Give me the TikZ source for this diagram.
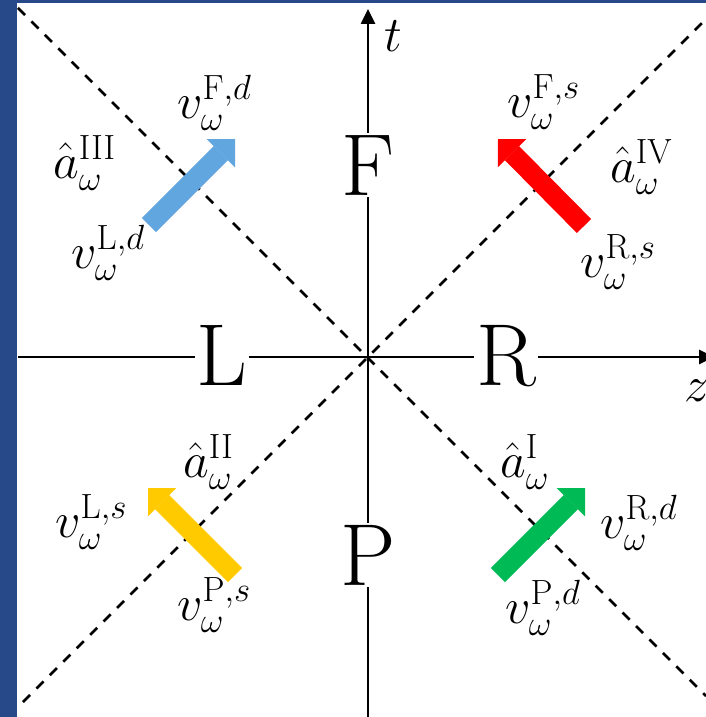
\RequirePackage{fix-cm}
\documentclass[tikz,border=0pt]{standalone}
\usetikzlibrary{arrows.meta}
\definecolor{frameblue}{HTML}{27498A}
\definecolor{arrblue}{HTML}{62A6E0}
\definecolor{arrred}{HTML}{FF0000}
\definecolor{arryellow}{HTML}{FFCA00}
\definecolor{arrgreen}{HTML}{00BA55}
\begin{document}
\begin{tikzpicture}[x=1pt,y=-1pt,
  axis/.style={line width=2.6pt,-{Triangle[length=15pt,width=14pt]}},
  diag/.style={line width=2.6pt,dash pattern=on 10pt off 9pt},
  region/.style={fill=white,inner sep=2pt,anchor=base,font=\fontsize{88}{90}\selectfont},
  lab/.style={inner sep=0pt,anchor=base west,font=\fontsize{50}{60}\selectfont},
  blockarrow/.style={line width=20pt,-{Triangle[length=20pt,width=40pt,line width=0pt]}}]
\useasboundingbox (0,0) rectangle (706,717);
\clip (0,0) rectangle (706,717);
\fill[white] (0,0) rectangle (706,717);
\fill[frameblue] (0,0) rectangle (17,717);
\fill[frameblue] (0,0) rectangle (706,3);
% coordinates
\coordinate (O) at (368,357);
\coordinate (zS) at (18,357);
\coordinate (zE) at (714,357);
\coordinate (tS) at (368,717);
\coordinate (tE) at (368,9);
\coordinate (d1a) at (18,8);
\coordinate (d1b) at (706,696);
\coordinate (d2a) at (23,702);
\coordinate (d2b) at (702,23);
% light-cone lines
\draw[diag] (d1a) -- (d1b);
\draw[diag] (d2a) -- (d2b);
% axes
\draw[axis] (zS) -- (zE);
\draw[axis] (tS) -- (tE);
% region letters
\node[region] (F) at (368,195) {F};
\node[region] (P) at (368,585) {P};
\node[region] (L) at (222,385) {L};
\node[region] (R) at (506,385) {R};
% block arrows
\coordinate (bT) at (149,225); \coordinate (bH) at (235,139);
\coordinate (rT) at (584,226); \coordinate (rH) at (498,139);
\coordinate (yT) at (235,575); \coordinate (yH) at (148,488);
\coordinate (gT) at (498,575); \coordinate (gH) at (585,488);
\draw[blockarrow,arrblue] (bT) -- (bH);
\draw[blockarrow,arrred] (rT) -- (rH);
\draw[blockarrow,arryellow] (yT) -- (yH);
\draw[blockarrow,arrgreen] (gT) -- (gH);
% axis labels
\node[lab] (t) at (384,52) {$t$};
\node[lab] (z) at (684,401) {$z$};
% mode labels
\node[lab] (vFd) at (177,118) {$v_\omega^{\mathrm{F},d}$};
\node[lab] (a3) at (53,178) {$\hat a_\omega^{\mathrm{III}}$};
\node[lab] (vLd) at (71,268) {$v_\omega^{\mathrm{L},d}$};
\node[lab] (vFs) at (507,117) {$v_\omega^{\mathrm{F},s}$};
\node[lab] (a4) at (610,182) {$\hat a_\omega^{\mathrm{IV}}$};
\node[lab] (vRs) at (580,277) {$v_\omega^{\mathrm{R},s}$};
\node[lab] (vLs) at (55,537) {$v_\omega^{\mathrm{L},s}$};
\node[lab] (a2) at (183,477) {$\hat a_\omega^{\mathrm{II}}$};
\node[lab] (vPs) at (177,620) {$v_\omega^{\mathrm{P},s}$};
\node[lab] (a1) at (500,477) {$\hat a_\omega^{\mathrm{I}}$};
\node[lab] (vRd) at (600,538) {$v_\omega^{\mathrm{R},d}$};
\node[lab] (vPd) at (505,623) {$v_\omega^{\mathrm{P},d}$};
\end{tikzpicture}
\end{document}
